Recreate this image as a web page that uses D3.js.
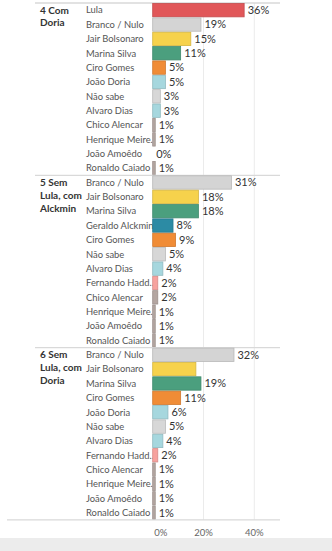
<!DOCTYPE html>
<html>
<head>
<meta charset="utf-8">
<script src="https://cdn.jsdelivr.net/npm/d3@7"></script>
<style>
  body { margin: 0; background: #fff; }
  svg { display: block; }
</style>
</head>
<body>
<div id="chart"></div>
<script>
// Scenario titles (one panel each)
const scenarios = [["4 Com", "Doria"], ["5 Sem", "Lula, com", "Alckmin"], ["6 Sem", "Lula, com", "Doria"]];

// Candidates per scenario, in the order shown
const names4 = ["Lula", "Branco / Nulo", "Jair Bolsonaro", "Marina Silva", "Ciro Gomes", "João Doria",
  "Não sabe", "Alvaro Dias", "Chico Alencar", "Henrique Meire..", "João Amoêdo", "Ronaldo Caiado"];
const names5 = ["Branco / Nulo", "Jair Bolsonaro", "Marina Silva", "Geraldo Alckmin", "Ciro Gomes", "Não sabe",
  "Alvaro Dias", "Fernando Hadd..", "Chico Alencar", "Henrique Meire..", "João Amoêdo", "Ronaldo Caiado"];
const names6 = ["Branco / Nulo", "Jair Bolsonaro", "Marina Silva", "Ciro Gomes", "João Doria", "Não sabe",
  "Alvaro Dias", "Fernando Hadd..", "Chico Alencar", "Henrique Meire..", "João Amoêdo", "Ronaldo Caiado"];

// Vote share (%)
const values4 = [36, 19, 15, 11, 5, 5, 3, 3, 1, 1, 0, 1];
const values5 = [31, 18, 18, 8, 9, 5, 4, 2, 2, 1, 1, 1];
const values6 = [32, 17, 19, 11, 6, 5, 4, 2, 1, 1, 1, 1];

// Labels that are hidden in the original (Bolsonaro in scenario 6)
const hidden6 = ["Jair Bolsonaro"];

const xTicks = [0, 20, 40];

// Candidate colours
const colorNames = ["Lula", "Branco / Nulo", "Jair Bolsonaro", "Marina Silva", "Ciro Gomes", "João Doria",
  "Não sabe", "Alvaro Dias", "Geraldo Alckmin", "Fernando Hadd..", "Chico Alencar", "Henrique Meire..",
  "João Amoêdo", "Ronaldo Caiado"];
const colorValues = ["#e15759", "#d4d4d4", "#f6d24c", "#4b9f7e", "#f08c36", "#a6d7de",
  "#d7d7d7", "#a6d7de", "#2c8ba4", "#f7a29e", "#b4a6a1", "#b4a6a1", "#b4a6a1", "#b4a6a1"];

const width = 332;
const height = 551;
const topY = 3;
const panelH = 172.3;
const x0 = 152.7;

const svg = d3
  .select("#chart")
  .append("svg")
  .attr("width", width)
  .attr("height", height)
  .style("font-family", "Lato, 'Noto Sans', sans-serif");

const xScale = d3.scaleLinear().domain([0, 40]).range([x0, 254.3]);
const cScale = d3.scaleOrdinal().domain(colorNames).range(colorValues);

// bottom grey band
svg
  .append("rect")
  .attr("x", 0)
  .attr("y", 538)
  .attr("width", width)
  .attr("height", height - 538)
  .attr("fill", "#ececec");

// vertical gridlines
svg
  .selectAll(".grid")
  .data(xTicks.slice(1))
  .join("line")
  .attr("class", "grid")
  .attr("x1", (d) => xScale(d))
  .attr("x2", (d) => xScale(d))
  .attr("y1", topY)
  .attr("y2", topY + panelH * 3)
  .attr("stroke", "#ebebeb")
  .attr("stroke-width", 1);

const panels = [
  {title: scenarios[0], names: names4, values: values4, hidden: []},
  {title: scenarios[1], names: names5, values: values5, hidden: []},
  {title: scenarios[2], names: names6, values: values6, hidden: hidden6},
];

panels.forEach(function (p, i) {
  const y0 = topY + i * panelH;
  const yScale = d3
    .scaleBand()
    .domain(p.names)
    .range([y0, y0 + panelH])
    .paddingInner(0.07)
    .paddingOuter(0.035);
  const rows = p.names.map((n, j) => ({name: n, value: p.values[j]}));
  const g = svg.append("g");

  // panel separator
  g.append("line")
    .attr("x1", 35)
    .attr("x2", 280)
    .attr("y1", y0)
    .attr("y2", y0)
    .attr("stroke", "#d9d9d9")
    .attr("stroke-width", 1.3);

  // scenario title
  g.append("text")
    .attr("x", 40)
    .attr("y", yScale(p.names[0]) + yScale.bandwidth() / 2)
    .attr("fill", "#333")
    .attr("font-size", 10)
    .attr("font-weight", 700)
    .selectAll("tspan")
    .data(p.title)
    .join("tspan")
    .attr("x", 40)
    .attr("dy", (d, k) => (k === 0 ? "0.35em" : 12.8))
    .text((d) => d);

  // candidate names
  g.selectAll(".name")
    .data(rows)
    .join("text")
    .attr("class", "name")
    .attr("x", 86)
    .attr("y", (d) => yScale(d.name) + yScale.bandwidth() / 2)
    .attr("dy", "0.35em")
    .attr("font-size", 9.4)
    .attr("fill", "#555")
    .text((d) => d.name);

  // bars
  g.selectAll(".bar")
    .data(rows)
    .join("rect")
    .attr("class", "bar")
    .attr("x", xScale(0))
    .attr("y", (d) => yScale(d.name))
    .attr("width", (d) => xScale(d.value) - xScale(0))
    .attr("height", yScale.bandwidth())
    .attr("fill", (d) => cScale(d.name))
    .attr("stroke", (d) => d3.color(cScale(d.name)).darker(0.4))
    .attr("stroke-width", (d) => (d.value > 0 ? 0.8 : 0));

  // value labels
  g.selectAll(".val")
    .data(rows.filter((d) => p.hidden.indexOf(d.name) < 0))
    .join("text")
    .attr("class", "val")
    .attr("x", (d) => xScale(d.value) + 3.5)
    .attr("y", (d) => yScale(d.name) + yScale.bandwidth() / 2)
    .attr("dy", "0.35em")
    .attr("font-size", 11)
    .attr("fill", "#333")
    .text((d) => d.value + "%");
});

// bottom axis line
svg
  .append("line")
  .attr("x1", 7)
  .attr("x2", 280)
  .attr("y1", topY + panelH * 3)
  .attr("y2", topY + panelH * 3)
  .attr("stroke", "#d9d9d9")
  .attr("stroke-width", 1.3);

// x tick labels
svg
  .selectAll(".tick-label")
  .data(xTicks)
  .join("text")
  .attr("class", "tick-label")
  .attr("x", (d) => (d === 0 ? xScale(d) + 1.5 : xScale(d)))
  .attr("y", 533)
  .attr("dy", "0.35em")
  .attr("text-anchor", (d) => (d === 0 ? "start" : "middle"))
  .attr("font-size", 9.5)
  .attr("fill", "#666")
  .text((d) => d + "%");
</script>
</body>
</html>
